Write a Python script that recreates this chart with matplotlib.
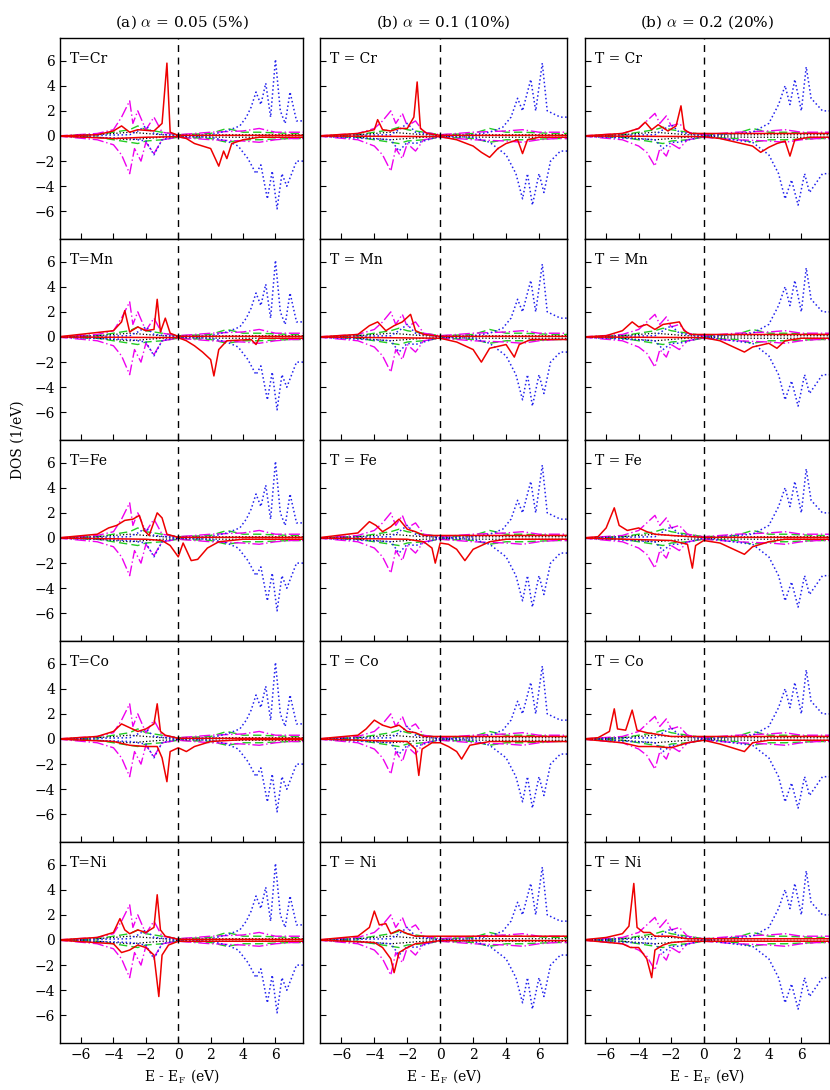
import numpy as np
import matplotlib
matplotlib.use("Agg")
import matplotlib.pyplot as plt

plt.rcParams['font.family'] = 'DejaVu Serif'
plt.rcParams['mathtext.fontset'] = 'cm'

col_titles = [r"(a) $\alpha$ = 0.05 (5%)", r"(b) $\alpha$ = 0.1 (10%)", r"(b) $\alpha$ = 0.2 (20%)"]
elements = ["Cr", "Mn", "Fe", "Co", "Ni"]

red = [
 [
  ([-5,0.1,-4,0.4,-3.5,0.8,-3,0.3,-2.5,0.5,-1.5,0.4,-1,1,-0.7,5.8,-0.5,0.3,0,0.05],
   [-4,-0.2,-2,-0.1,0,-0.05,0.5,-0.2,1,-0.6,2,-1,2.5,-2.4,2.8,-1.2,3,-1.8,3.3,-0.6,4,-0.3,5,-0.1]),
  ([-4,0.5,-3.5,1.2,-3.3,2.1,-3,0.4,-2.5,0.8,-2,0.5,-1.5,0.6,-1.3,3.0,-1.1,0.4,-0.8,1.5,-0.5,0.3,0,0.05],
   [0,-0.05,0.5,-0.3,1,-0.7,1.5,-1.2,2,-1.8,2.2,-3.1,2.5,-1,3,-0.3,4.5,-0.2,4.8,-0.6,5,-0.1]),
  ([-5,0.3,-4.3,0.8,-3.8,1,-3.3,1.4,-2.8,1.5,-2.4,1.8,-2.1,0.6,-1.8,0.2,-1.3,2.0,-1.0,1.6,-0.7,0.3,0,0.05],
   [-2,-0.1,-1,-0.2,-0.5,-0.6,0,-1.5,0.3,-0.4,0.8,-1.8,1.2,-1.7,1.8,-0.8,2.5,-0.3,4,-0.1]),
  ([-5,0.2,-4,0.6,-3.5,1.2,-3,0.9,-2.5,0.6,-2,0.8,-1.5,1.2,-1.3,2.8,-1.1,0.6,-0.8,0.3,0,0.05],
   [-4,-0.2,-3,-0.5,-2,-0.6,-1.3,-0.6,-1,-1.5,-0.7,-3.4,-0.5,-1,0,-0.7,0.5,-1.0,1,-0.6,2,-0.2,4,-0.05]),
  ([-5,0.2,-4,0.6,-3.6,1.7,-3.3,0.8,-3,0.5,-2.5,0.8,-2,0.6,-1.5,1.0,-1.3,3.6,-1.1,0.8,-0.8,0.3,0,0.05],
   [-4,-0.3,-3.5,-1.0,-3,-0.8,-2.5,-0.4,-2,-0.6,-1.5,-1.2,-1.2,-4.5,-1.0,-1.2,-0.6,-0.4,0,-0.1]),
 ],
 [
  ([-5,0.2,-4,0.5,-3.8,1.3,-3.5,0.5,-3,0.4,-2.5,0.6,-2,0.6,-1.6,1.5,-1.4,4.3,-1.2,0.6,-0.8,0.2,0,0.05],
   [0,-0.05,1,-0.3,2,-0.8,2.5,-1.3,3,-1.7,3.5,-1.0,4,-0.6,4.7,-0.3,5,-1.4,5.3,-0.3,6,-0.1]),
  ([-5,0.2,-4.3,0.9,-3.8,1.2,-3.3,0.5,-2.8,0.9,-2.3,1.2,-1.8,1.8,-1.5,0.5,-1,0.2,0,0.05],
   [0,-0.1,1,-0.4,2,-1,2.5,-2,3,-0.9,4,-0.6,4.5,-1.6,4.8,-0.6,5.5,-0.2]),
  ([-5,0.4,-4.3,1.3,-3.9,1.0,-3.5,0.5,-3,0.9,-2.5,1.5,-2,0.7,-1.5,0.5,-1,0.2],
   [-2,-0.1,-1,-0.3,-0.5,-0.8,-0.3,-2.0,0,-0.4,0.5,-0.5,1,-0.9,1.5,-1.8,2,-0.9,3,-0.3,4,-0.1]),
  ([-5,0.3,-4.5,0.8,-4,1.5,-3.5,1.1,-3,0.9,-2.5,1.1,-2,0.6,-1.5,0.5,-1,0.2],
   [-2,-0.2,-1.5,-0.8,-1.3,-2.9,-1.1,-0.8,-0.5,-0.3,0,-0.3,0.5,-0.6,1.0,-1.0,1.3,-1.6,1.8,-0.5,3,-0.2]),
  ([-5,0.3,-4.3,1.0,-4,2.3,-3.7,1.2,-3.3,1.3,-3,0.5,-2.5,0.8,-2,0.5,-1.5,0.3],
   [-4,-0.2,-3.5,-0.6,-3,-1.5,-2.8,-2.6,-2.5,-1.0,-2,-0.6,-1.5,-0.3,0,-0.05]),
 ],
 [
  ([-5,0.2,-4,0.6,-3.6,1.1,-3.2,0.5,-2.8,0.9,-2.2,0.4,-1.7,0.8,-1.4,2.4,-1.2,0.5,-0.8,0.2],
   [0,-0.05,1,-0.2,2,-0.5,3,-0.8,3.5,-1.3,4,-0.9,4.5,-0.6,5,-0.4,5.3,-1.6,5.6,-0.3,6.5,-0.1]),
  ([-6,0.1,-5,0.5,-4.4,1.2,-4,0.8,-3.5,1.0,-3,0.6,-2.5,1.0,-2,1.1,-1.5,1.2,-1.2,0.5,-0.8,0.2],
   [0,-0.05,1,-0.3,2,-0.9,2.5,-1.2,3,-0.8,4,-0.5,4.5,-0.9,5,-0.3,6,-0.1]),
  ([-6.5,0.1,-6,0.8,-5.5,2.4,-5.2,1.0,-4.7,0.6,-4,0.8,-3.5,0.5,-3,0.3,-2,0.2,0,0.05],
   [-2,-0.2,-1,-0.5,-0.7,-2.4,-0.5,-0.6,0,-0.2,1,-0.4,2,-1.0,2.5,-1.3,3,-0.7,4,-0.3,5,-0.1]),
  ([-6.5,0.1,-5.8,0.6,-5.5,2.4,-5.3,0.8,-4.8,0.7,-4.4,2.3,-4.1,0.7,-3.5,0.5,-3,0.4,-2,0.2],
   [-5,-0.3,-4,-0.6,-3,-0.6,-2,-0.7,-1.5,-0.5,-1,-0.3,0,-0.1,1,-0.4,2,-0.8,2.5,-1.0,3,-0.3,4,-0.1]),
  ([-6,0.2,-5,0.5,-4.6,1.1,-4.3,4.5,-4.1,1.0,-3.7,0.6,-3.3,0.6,-3,0.3,-2,0.3,-1,0.1],
   [-5,-0.3,-4.5,-0.6,-4,-0.6,-3.5,-1.5,-3.2,-3.0,-3,-0.8,-2.5,-0.4,-2,-0.2,-1,-0.1]),
 ],
]

blue = [
 ([-3,0.1,-2.5,0.4,-2,0.8,-1.5,0.2,0,0,2,0.1,3,0.4,3.8,0.8,4.2,1.5,4.5,2.3,4.8,3.5,5.1,2.5,5.4,4.2,5.7,1.5,6.0,6.1,6.3,2,6.6,1,6.9,3.5,7.3,1.2],
  [-3,-0.2,-2,-0.4,-1.5,-1.5,-1,-0.3,0,0,2,-0.1,3,-0.4,3.7,-0.8,4.3,-1.8,4.8,-3,5.1,-2.3,5.5,-5,5.8,-2.8,6.1,-5.8,6.4,-3,6.7,-4,7.3,-2]),
 ([-3,0.1,-2.5,0.5,-2,1.0,-1.5,0.3,0,0,2,0.1,3,0.3,3.8,0.7,4.3,1.5,4.7,3.0,5.0,2.0,5.5,4.5,5.8,2,6.2,5.8,6.5,2,7.3,1.5],
  [-3,-0.3,-2.5,-1.2,-2,-0.5,-1.5,-0.6,0,0,2,-0.1,3,-0.5,4,-1.5,4.6,-3,5.0,-5,5.3,-3,5.6,-5.5,6,-3,6.3,-4.5,6.7,-2,7.3,-1.2]),
 ([-3,0.1,-2.5,0.5,-2,0.9,-1.5,0.3,0,0,3,0.3,4,1.0,4.6,2.5,5.0,4.0,5.3,2.5,5.6,4.5,6.0,2,6.3,5.5,6.6,3,7.3,2],
  [-3,-0.3,-2.5,-1.0,-2,-0.5,-1.5,-0.5,0,0,3,-0.5,4,-1.5,4.6,-3,5.0,-5,5.4,-3.5,5.8,-5.5,6.2,-3,6.5,-4.5,7.3,-3]),
]

magenta = [
 ([-5,0.2,-4,0.5,-3.5,1.5,-3,2.8,-2.8,1,-2.5,2,-2,0.5,-1.5,1.5,-1,0.3,0,0.1,2,0.3,4,0.4,5,0.6,6,0.3,7,0.3],
  [-5,-0.3,-4,-0.7,-3.5,-1.5,-3,-3,-2.7,-1,-2.3,-2,-2,-0.5,-1.5,-1.4,-1,-0.3,0,-0.1,2,-0.3,4,-0.4,5,-0.5,6,-0.3,7,-0.2]),
 ([-5,0.2,-4,0.6,-3.5,1.2,-3,2.0,-2.7,1,-2.3,1.8,-2,0.8,-1.5,1.2,-1,0.3,0,0.1,2,0.3,4,0.4,5,0.5,6,0.3,7,0.3],
  [-5,-0.3,-4,-0.8,-3.5,-1.5,-3,-2.8,-2.7,-1,-2.3,-1.8,-2,-0.6,-1.5,-1.2,-1,-0.3,0,-0.1,2,-0.3,4,-0.4,5,-0.5,6,-0.3,7,-0.2]),
 ([-5,0.2,-4,0.6,-3.5,1.2,-3,1.8,-2.7,1,-2.3,1.6,-2,0.8,-1.5,1.0,-1,0.3,0,0.1,2,0.3,4,0.4,5,0.5,6,0.3,7,0.3],
  [-5,-0.3,-4,-0.8,-3.5,-1.3,-3,-2.4,-2.7,-1,-2.3,-1.6,-2,-0.6,-1.5,-1.0,-1,-0.3,0,-0.1,2,-0.3,4,-0.4,5,-0.5,6,-0.3,7,-0.2]),
]

green = [
 ([-5,0.1,-4,0.3,-3,0.5,-2.5,0.8,-2,0.5,-1,0.3,0,0.1,2,0.2,3,0.6,4,0.3,5,0.3,7,0.2],
  [-5,-0.1,-4,-0.3,-3,-0.5,-2.5,-0.6,-2,-0.4,-1,-0.3,0,-0.1,2,-0.2,3,-0.5,4,-0.3,5,-0.3,7,-0.2]),
 ([-5,0.1,-4,0.3,-3,0.5,-2.5,0.7,-2,0.5,-1,0.3,0,0.1,2,0.2,3,0.6,4,0.3,5,0.3,7,0.2],
  [-5,-0.1,-4,-0.3,-3,-0.5,-2.5,-0.6,-2,-0.4,-1,-0.3,0,-0.1,2,-0.2,3,-0.5,4,-0.3,5,-0.3,7,-0.2]),
 ([-5,0.1,-4,0.3,-3,0.5,-2.5,0.7,-2,0.5,-1,0.3,0,0.1,2,0.2,3,0.6,4,0.3,5,0.3,7,0.2],
  [-5,-0.1,-4,-0.3,-3,-0.5,-2.5,-0.6,-2,-0.4,-1,-0.3,0,-0.1,2,-0.2,3,-0.5,4,-0.3,5,-0.3,7,-0.2]),
]

black = ([-5,0.1,-4,0.2,-3,0.3,-2,0.2,-1,0.1,0,0.05,3,0.1,7,0.1],
         [-5,-0.1,-4,-0.2,-3,-0.3,-2,-0.2,-1,-0.1,0,-0.05,3,-0.1,7,-0.1])

def xy(flat):
    a = np.array(flat, float).reshape(-1, 2)
    x = np.concatenate([[-7.5], a[:, 0], [7.8]])
    y = np.concatenate([[0], a[:, 1], [a[-1, 1]]])
    return x, y

fig = plt.figure(figsize=(8.3, 10.9), dpi=100)
W, H = 830, 1090
cols_px = [(60, 303), (320, 567), (585, 829)]
top, rh = 38, 201

for c in range(3):
    for r in range(5):
        x0, x1 = cols_px[c]
        yb = top + rh * (r + 1)
        ax = fig.add_axes([x0 / W, 1 - yb / H, (x1 - x0) / W, rh / H])
        styles = [(green[c], dict(color='#22cc22', ls=(0, (6, 3)), lw=1.0)),
                  (magenta[c], dict(color='#ee00ee', ls=(0, (8, 2, 1, 2)), lw=1.0)),
                  (black, dict(color='black', ls=':', lw=0.9)),
                  (blue[c], dict(color='#2222ee', ls=':', lw=1.1)),
                  (red[c][r], dict(color='#ee0000', ls='-', lw=1.1))]
        for (up, dn), st in styles:
            for curve in (up, dn):
                ax.plot(*xy(curve), **st)
        ax.axvline(0, color='black', ls=(0, (5, 4)), lw=1.0)
        ax.set_xlim(-7.3, 7.7)
        ax.set_ylim(-8.2, 7.8)
        ax.set_xticks([-6, -4, -2, 0, 2, 4, 6])
        ax.set_yticks([-6, -4, -2, 0, 2, 4, 6])
        ax.tick_params(direction='in', length=4, labelsize=10, top=False, right=False)
        if c != 0:
            ax.set_yticklabels([])
        if r != 4:
            ax.set_xticklabels([])
        else:
            ax.set_xlabel(r"E - E$_\mathrm{F}$ (eV)", fontsize=10)
        lab = f"T={elements[r]}" if c == 0 else f"T = {elements[r]}"
        ax.text(0.04, 0.93, lab, transform=ax.transAxes, fontsize=10, va='top')
        if r == 0:
            ax.set_title(col_titles[c], fontsize=11, pad=8)
        for s in ax.spines.values():
            s.set_linewidth(1.0)

fig.text(18 / W, 1 - 440 / H, "DOS (1/eV)", rotation=90, va='center', ha='center', fontsize=10)
fig.savefig("out.png", dpi=100)
